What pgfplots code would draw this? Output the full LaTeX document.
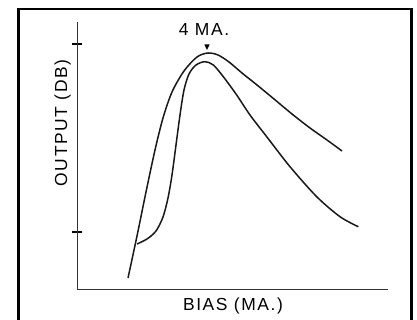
\documentclass[border=0pt]{standalone}
\usepackage{pgfplots}
\pgfplotsset{compat=1.18}
\usepackage{fontspec}
\setmainfont{Liberation Sans}[LetterSpace=9]
\begin{document}
\begin{tikzpicture}
\useasboundingbox (0,0) rectangle (417bp,320bp);
\begin{axis}[
  at={(77bp,31bp)}, anchor=south west,
  scale only axis, width=311bp, height=267bp,
  xmin=0, xmax=311, ymin=0, ymax=267,
  axis lines=left, axis line style={-, line width=0.9bp, black!80},
  xtick=\empty, ytick={57,245}, yticklabels={},
  tick align=center, major tick length=10bp,
  tick style={line width=1.1bp, black},
  clip=false,
]
% outer curve
\addplot[black!90, no markers, smooth, tension=0.5, line width=1.5bp] coordinates {
(51,11) (60,53) (69,97) (78,139) (86,171) (95,197) (107,218) (120,232)
(131,236) (141,234) (152,227) (165,216) (180,204) (197,190) (215,175)
(233,161) (250,149) (265,138)};
% inner curve
\addplot[black!90, no markers, smooth, tension=0.5, line width=1.5bp] coordinates {
(60,45) (70,50) (79,58) (86,72) (91,91) (95,114) (99,144) (103,174)
(107,199) (112,215) (119,224) (128,227.3) (136.3,224)
(146.3,212.3) (159.7,194) (173,174) (189.7,152.3) (213,122.3)
(239.7,92.3) (263,72.3) (281.3,62.3)};
\node[anchor=base, font=\fontsize{17.5}{20}\selectfont] at (axis cs:127,253) {4 MA.};
\fill (axis cs:130,239) -- ++(-2.6bp,5.5bp) -- ++(5.2bp,0) -- cycle;
\node[anchor=base, font=\fontsize{17.5}{20}\selectfont] at (axis cs:156,-21) {BIAS (MA.)};
\node[anchor=base, rotate=90, font=\fontsize{17.5}{20}\selectfont] at (axis cs:-10,166) {OUTPUT (DB)};
\end{axis}
\draw[line width=2.6bp] (18.5bp,0bp) -- (18.5bp,311bp) -- (411.5bp,311bp) -- (411.5bp,0bp);
\end{tikzpicture}
\end{document}
